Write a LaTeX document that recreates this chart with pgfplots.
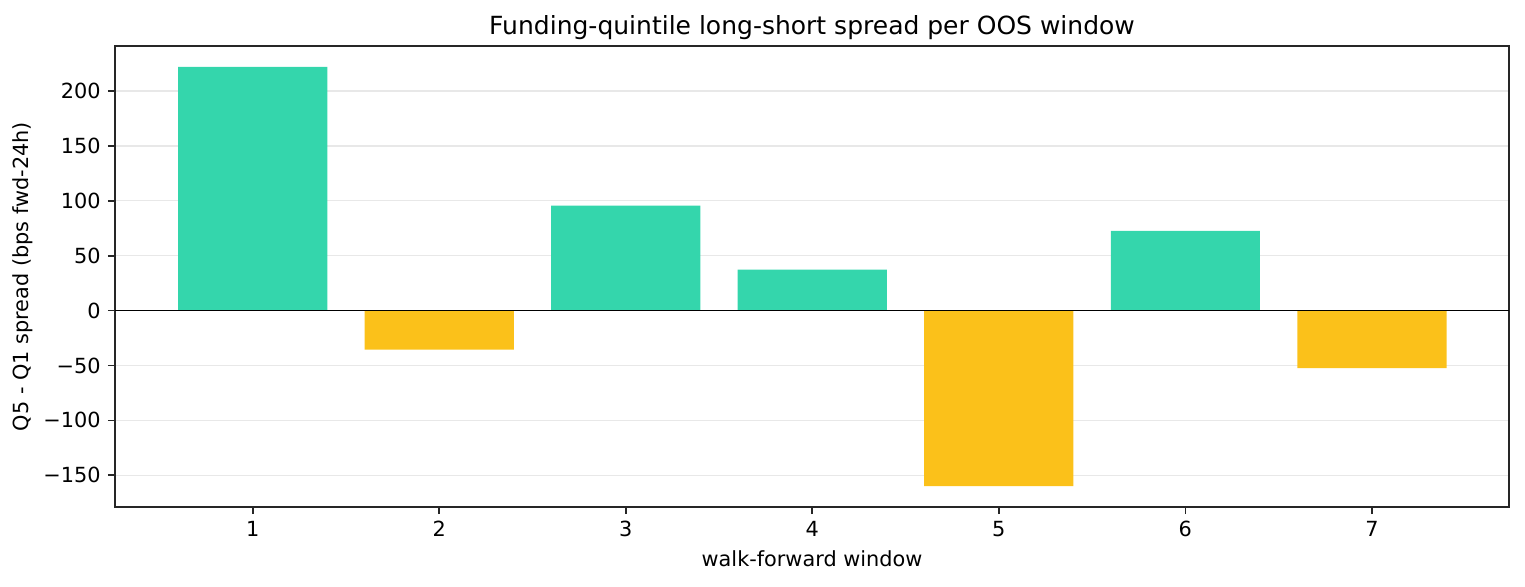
\documentclass[border=0pt]{standalone}
\usepackage{pgfplots}
\pgfplotsset{compat=1.18}
\usepackage{fontspec}
\setmainfont{DejaVu Sans}
\definecolor{posgreen}{RGB}{52,214,172}
\definecolor{negyellow}{RGB}{251,193,26}
\definecolor{axisgray}{RGB}{38,38,38}
\definecolor{gridgray}{RGB}{232,232,232}
\begin{document}
\begin{tikzpicture}
\begin{axis}[
  scale only axis,
  width=669.1pt, height=221.3pt,
  xmin=0.262, xmax=7.735,
  ymin=-179, ymax=241,
  xtick={1,2,3,4,5,6,7},
  xticklabels={1,2,3,4,5,6,7},
  ytick={-150,-100,-50,0,50,100,150,200},
  yticklabels={−150,−100,−50,0,50,100,150,200},
  tick align=outside,
  xtick pos=bottom, ytick pos=left,
  major tick length=3.4pt,
  tick style={axisgray, line width=0.8pt},
  axis line style={axisgray, line width=0.8pt},
  ymajorgrids,
  major grid style={gridgray, line width=0.6pt},
  tick label style={font=\fontsize{10}{12}\selectfont, text=black},
  label style={font=\fontsize{10}{12}\selectfont},
  title={Funding-quintile long-short spread per OOS window},
  title style={font=\fontsize{12}{14}\selectfont, yshift=-6.3pt},
  xlabel={walk-forward window},
  ylabel={Q5 - Q1 spread (bps fwd-24h)},
  xlabel style={yshift=0.6pt},
  ylabel style={yshift=-2pt},
  bar width=0.8,
]
\addplot[ybar, bar shift=0pt, fill=posgreen, draw=none] coordinates {(1,222) (3,95.5) (4,37.3) (6,72.7)};
\addplot[ybar, bar shift=0pt, fill=negyellow, draw=none] coordinates {(2,-35.5) (5,-160) (7,-52.5)};
\addplot[black, line width=0.5pt] coordinates {(0.262,0) (7.735,0)};
\end{axis}
\pgfresetboundingbox
\path[use as bounding box] ([xshift=-55.2pt,yshift=-37.9pt]current axis.south west) rectangle ([xshift=7.68pt,yshift=22.08pt]current axis.north east);
\end{tikzpicture}
\end{document}
